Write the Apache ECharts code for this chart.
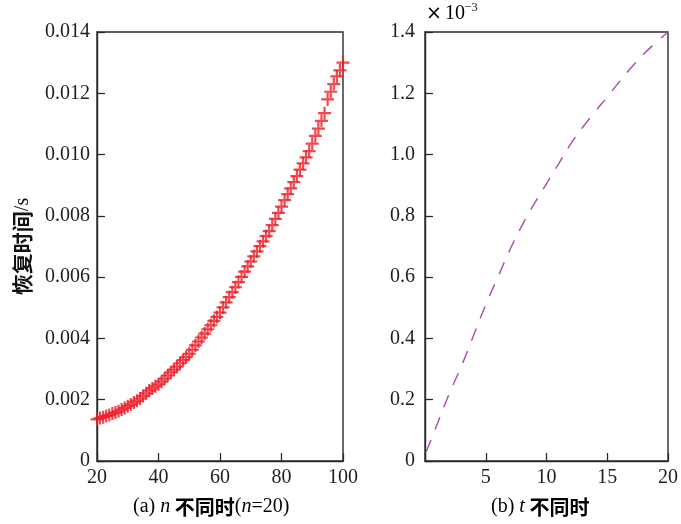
<!DOCTYPE html>
<html>
<head>
<meta charset="utf-8">
<script src="https://cdn.jsdelivr.net/npm/echarts@6/dist/echarts.min.js"></script>
<style>
  html, body { margin: 0; padding: 0; background: #fff; }
  #chart { width: 681px; height: 524px; }
</style>
</head>
<body>
<div id="chart"></div>
<script>
// (a) recovery time for n = 20 ... 100
const nValues = [
  20, 21, 22, 23, 24, 25, 26, 27, 28, 29,
  30, 31, 32, 33, 34, 35, 36, 37, 38, 39,
  40, 41, 42, 43, 44, 45, 46, 47, 48, 49,
  50, 51, 52, 53, 54, 55, 56, 57, 58, 59,
  60, 61, 62, 63, 64, 65, 66, 67, 68, 69,
  70, 71, 72, 73, 74, 75, 76, 77, 78, 79,
  80, 81, 82, 83, 84, 85, 86, 87, 88, 89,
  90, 91, 92, 93, 94, 95, 96, 97, 98, 99, 100
];
const recoveryTimeN = [
  0.00136, 0.00140, 0.00143, 0.00147, 0.00150, 0.00155, 0.00158, 0.00162, 0.00168, 0.00173,
  0.00179, 0.00184, 0.00191, 0.00197, 0.00204, 0.00212, 0.00221, 0.00230, 0.00237, 0.00244,
  0.00250, 0.00259, 0.00269, 0.00279, 0.00289, 0.00298, 0.00308, 0.00319, 0.00329, 0.00339,
  0.00350, 0.00363, 0.00377, 0.00390, 0.00403, 0.00416, 0.00430, 0.00443, 0.00457, 0.00470,
  0.00484, 0.00501, 0.00518, 0.00535, 0.00551, 0.00567, 0.00584, 0.00601, 0.00618, 0.00635,
  0.00651, 0.00668, 0.00684, 0.00701, 0.00717, 0.00734, 0.00750, 0.00770, 0.00790, 0.00810,
  0.00830, 0.00851, 0.00871, 0.00890, 0.00910, 0.00930, 0.00951, 0.00971, 0.00991, 0.01011,
  0.01036, 0.01061, 0.01085, 0.01110, 0.01135, 0.01180, 0.01205, 0.01230, 0.01255, 0.01275, 0.01300
];

// (b) recovery time against t
const tValues = [0.1, 1, 2, 3, 4, 5, 6, 7, 8, 9, 10, 11, 12, 13, 14, 15, 16, 17, 18, 19, 20];
const recoveryTimeT = [
  0.000030, 0.000120, 0.000220, 0.000310, 0.000410, 0.000510, 0.000600, 0.000690,
  0.000770, 0.000840, 0.000905, 0.000970, 0.001035, 0.001090, 0.001140, 0.001188,
  0.001238, 0.001285, 0.001328, 0.001365, 0.001400
];

const serif = '"Liberation Serif", "Times New Roman", serif';
const cjk = '"Noto Sans CJK SC", sans-serif';
const axisColor = '#2b2b2b';
const textColor = '#1e1e1e';

// "+" marker drawn as two filled bars
const plusSymbol = 'path://M0,8.3h20v3.4h-20z M8.3,0h3.4v20h-3.4z';

const seriesA = nValues.map((n, i) => [n, recoveryTimeN[i]]);
const seriesB = tValues.map((t, i) => [t, recoveryTimeT[i]]);

function axisCommon(extraLabel) {
  return {
    axisLine: { show: true, onZero: false, lineStyle: { color: axisColor, width: 1.4 } },
    axisTick: { show: true, inside: true, length: 8, lineStyle: { color: axisColor, width: 1.3 } },
    splitLine: { show: false },
    axisLabel: Object.assign({ color: textColor, fontFamily: serif, fontSize: 20 }, extraLabel || {})
  };
}

const chart = echarts.init(document.getElementById('chart'), null, { renderer: 'canvas' });

const richCaption = {
  r: { fontFamily: serif, fontSize: 20, color: textColor },
  i: { fontFamily: serif, fontSize: 20, fontStyle: 'italic', color: textColor },
  b: { fontFamily: cjk, fontSize: 20, fontWeight: 'bold', color: textColor }
};

chart.setOption({
  animation: false,
  backgroundColor: '#fff',
  grid: [
    { left: 97, right: 338, top: 32, bottom: 63, show: true, borderColor: axisColor, borderWidth: 1.4, backgroundColor: 'transparent' },
    { left: 425, right: 10, top: 32, bottom: 63, show: true, borderColor: axisColor, borderWidth: 1.4, backgroundColor: 'transparent' }
  ],
  xAxis: [
    Object.assign(axisCommon({ margin: 7 }), {
      gridIndex: 0, type: 'value', min: 20, max: 100, interval: 20
    }),
    Object.assign(axisCommon({ margin: 7, formatter: v => (v === 0 ? '' : String(v)) }), {
      gridIndex: 1, type: 'value', min: 0, max: 20, interval: 5
    })
  ],
  yAxis: [
    Object.assign(axisCommon({ margin: 7, formatter: v => (Math.abs(v) < 1e-12 ? '0' : v.toFixed(3)) }), {
      gridIndex: 0, type: 'value', min: 0, max: 0.014, interval: 0.002,
      name: '{cn|恢复时间}{en|/s}',
      nameLocation: 'middle',
      nameGap: 64,
      nameRotate: 90,
      nameTextStyle: {
        rich: {
          cn: { fontFamily: cjk, fontWeight: 'bold', fontSize: 21, color: '#111' },
          en: { fontFamily: serif, fontSize: 20, color: '#111' }
        }
      }
    }),
    Object.assign(axisCommon({ margin: 10, formatter: v => (Math.abs(v) < 1e-12 ? '0' : (v * 1000).toFixed(1)) }), {
      gridIndex: 1, type: 'value', min: 0, max: 0.0014, interval: 0.0002
    })
  ],
  series: [
    {
      type: 'scatter',
      xAxisIndex: 0, yAxisIndex: 0,
      data: seriesA,
      symbol: plusSymbol,
      symbolSize: 13,
      itemStyle: { color: '#ec1c26' },
      clip: false
    },
    {
      type: 'line',
      xAxisIndex: 1, yAxisIndex: 1,
      data: seriesB,
      smooth: 0.5,
      showSymbol: false,
      lineStyle: { color: '#a84ca8', width: 1.4, type: [13, 11] }
    }
  ],
  graphic: [
    {
      type: 'text', left: 426, top: 4,
      style: {
        text: '{x|×}{n|10}',
        rich: {
          x: { fontFamily: '"DejaVu Sans", sans-serif', fontSize: 19, color: textColor, padding: [0, 3, 0, 0] },
          n: { fontFamily: serif, fontSize: 20, color: textColor }
        }
      }
    },
    {
      type: 'text', left: 464, top: 1,
      style: { text: '−3', font: '13px ' + serif, fill: textColor }
    },
    {
      type: 'text', left: 133, top: 497,
      style: { text: '{r|(a) }{i|n}{b| 不同时}{r|(}{i|n}{r|=20)}', rich: richCaption }
    },
    {
      type: 'text', left: 491, top: 497,
      style: { text: '{r|(b) }{i|t}{b| 不同时}', rich: richCaption }
    }
  ]
});
</script>
</body>
</html>
